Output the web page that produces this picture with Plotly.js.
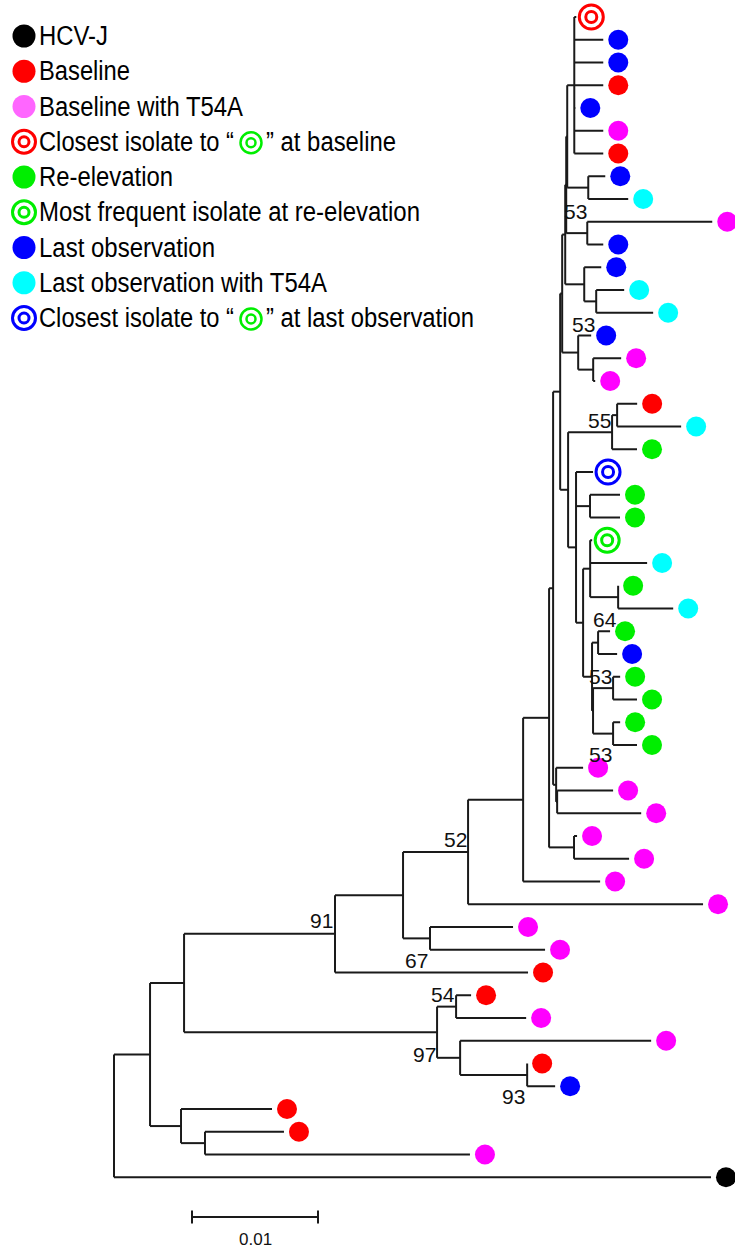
<!DOCTYPE html>
<html><head><meta charset="utf-8">
<script src="https://cdn.plot.ly/plotly-3.0.1.min.js"></script>
<style>html,body{margin:0;padding:0;background:#fff}#chart{width:735px;height:1249px}</style>
</head><body><div id="chart"></div>
<script>
// ---------------- DATA ----------------
const groupKeys  = ["ref","base","baseT","baseClose","reel","reelTop","last","lastT","lastClose"];
const groupNames = ["HCV-J","Baseline","Baseline with T54A",
  "Closest isolate to “◎” at baseline",
  "Re-elevation","Most frequent isolate at re-elevation","Last observation",
  "Last observation with T54A",
  "Closest isolate to “◎” at last observation"];

// tips, top to bottom
const tipGroup = ["baseClose","last","last","base","last","baseT","base","last","lastT","baseT",
  "last","last","lastT","lastT","last","baseT","baseT","base","lastT","reel",
  "lastClose","reel","reel","reelTop","lastT","reel","lastT","reel","last","reel",
  "reel","reel","reel","baseT","baseT","baseT","baseT","baseT","baseT","baseT",
  "baseT","baseT","base","base","baseT","baseT","base","last","base","base",
  "baseT","ref"];
const tipParent = ["P1","P1","P1","P1","P1","P1","P1","G89","G89","G1011",
  "G1011","G1214","G1314","G1314","G1517","G1617","G1617","n617","n617","n55",
  "n576","nX","nX","nY","nY","n618","n618","n64","n64","n613a",
  "n613a","n613b","n613b","nA","nB","nB","n574m","n574m","n523","n52",
  "n67","n67","n91","n54","n54","n460","n93","n93","n181","n205",
  "n205","root"];
const tipLength = [0.00016,0.0023,0.0023,0.0023,0.00008,0.0023,0.0023,0.00135,0.00317,0.00992,
  0.00127,0.00135,0.00222,0.00452,0.00103,0.00222,0.00016,0.00159,0.00508,0.00198,
  0.00135,0.00238,0.00238,0.00016,0.00452,0,0.00437,0.00095,0.00151,0.00056,
  0.0019,0.00056,0.0019,0.00214,0.00444,0.00667,0.00024,0.00437,0.00611,0.01865,
  0.00659,0.00913,0.01532,0.00119,0.00556,0.01516,0,0.00222,0.00722,0.00627,
  0.02103,0.04738];

// internal nodes
const nodeName   = ["root","n150","n184","n181","n205","n91","n97","n54","n460","n93",
  "n403","n67","n52","n523","n549","n574m","n553","nA","nB","n560",
  "n562","n568","n565","n566","n567","P1","G89","G1011","G1214","G1314",
  "G1517","G1617","n55","n617","n576","nX","n583","nY","n618","n592",
  "n64","n593","n613a","n613b"];
const nodeParent = [null,"root","n150","n150","n181","n184","n184","n97","n97","n460",
  "n91","n403","n403","n52","n523","n549","n549","n553","nA","n553",
  "n560","n560","n562","n565","n566","n567","n567","n566","n565","G1214",
  "n562","G1517","n568","n55","n568","n576","n576","n583","nY","n583",
  "n592","n592","n593","n593"];
const nodeLength = [0,0.00286,0.0027,0.00246,0.0019,0.01198,0.02008,0.00151,0.00183,0.00532,
  0.0054,0.00214,0.00516,0.00437,0.00206,0.00198,0.00032,0.00024,0.00008,0.00056,
  0.00016,0.00063,0.00024,0.00008,0.00008,0.00056,0.00167,0.00167,0.00151,0.00095,
  0.00127,0.00119,0.00349,0.0004,0.00063,0.00111,0.00056,0.00056,0.00222,0.00071,
  0.00048,0.00008,0.00159,0.00159];

// bootstrap values
const bootNode  = ["G1011","G1517","n55","n64","n613a","nA","n52","n91","n67","n54","n97","n93"];
const bootValue = [53,53,55,64,53,53,52,91,67,54,97,93];

const scaleLength = 0.01;
const scaleLabel = "0.01";

// ---------------- STYLE ----------------
const bootDx = [-12,5,-13,7,-13,44,-13,-14,-14,-13,-13,-14];
const bootDy = [-22,-28,-12,-23,-12,-30,-12,-13,22,-12,22,22];
// legend text pieces: [start x, width] in pixels (text split around the inline ◎)
const legendPartX = [[40],[40],[40],[40,267],[40],[40],[40],[40],[40,267]];
const legendPartW = [[69],[91],[204],[195,130],[134],[381],[176],[288],[195,208]];
const INLINE_RING_X = 251;
const groupColor = {ref:"#000000",base:"#ff0000",baseT:"#ff00ff",baseClose:"#ff0000",
  reel:"#00ee00",reelTop:"#00ee00",last:"#0000ff",lastT:"#00ffff",lastClose:"#0000ff"};
const legendColor = {ref:"#000000",base:"#ff0000",baseT:"#ff66ff",baseClose:"#ff0000",
  reel:"#00ee00",reelTop:"#00ee00",last:"#0000ff",lastT:"#00ffff",lastClose:"#0000ff"};
const ringGroups = ["baseClose","reelTop","lastClose"];
const PX = 12600;              // pixels per substitution unit
const ROOT_PX = 114, ROW0 = 17, ROW = 22.75, W = 735, H = 1249;
const MARKER_GAP = 15 / PX;
const LINE = "#1a1a1a", LW = 2;

// ---------------- BUILD TREE ----------------
const parentOf = {}, lenOf = {}, children = {};
tipGroup.forEach((g,i)=>{ const id="t"+i; parentOf[id]=tipParent[i]; lenOf[id]=tipLength[i]; });
nodeName.forEach((n,i)=>{ parentOf[n]=nodeParent[i]; lenOf[n]=nodeLength[i]; children[n]=[]; });
Object.keys(parentOf).forEach(id=>{ const p=parentOf[id]; if(p) children[p].push(id); });
const distMemo={};
function dist(id){ if(id in distMemo) return distMemo[id]; const p=parentOf[id];
  const d = p ? dist(p)+lenOf[id] : 0; distMemo[id]=d; return d; }
const yMemo={};
function yOf(id){ if(id in yMemo) return yMemo[id];
  let y; if(!(id in children)) y=+id.slice(1);
  else { const ys=children[id].map(yOf); y=(Math.min(...ys)+Math.max(...ys))/2; }
  yMemo[id]=y; return y; }

const lx=[], ly=[];
Object.keys(parentOf).forEach(id=>{
  const p=parentOf[id]; if(!p) return;
  lx.push(dist(p),dist(id),null); ly.push(yOf(id),yOf(id),null);
});
nodeName.forEach(n=>{
  const ys=children[n].map(yOf);
  lx.push(dist(n),dist(n),null); ly.push(Math.min(...ys),Math.max(...ys),null);
});

const traces=[{type:"scatter",mode:"lines",x:lx,y:ly,line:{color:LINE,width:LW},hoverinfo:"skip"}];

function ringPair(xs,ys,color,outer,inner,w,extra){
  return [
    Object.assign({type:"scatter",mode:"markers",x:xs,y:ys,hoverinfo:"skip",
      marker:{symbol:"circle-open",size:outer,color:color,line:{width:w}}},extra),
    Object.assign({type:"scatter",mode:"markers",x:xs,y:ys,hoverinfo:"skip",
      marker:{symbol:"circle-open",size:inner,color:color,line:{width:w}}},extra)
  ];
}

groupKeys.forEach(g=>{
  const xs=[], ys=[];
  tipGroup.forEach((tg,i)=>{ if(tg===g){ xs.push(dist("t"+i)+MARKER_GAP); ys.push(i); } });
  if(!xs.length) return;
  if(ringGroups.includes(g)) traces.push(...ringPair(xs,ys,groupColor[g],24,11,3,{}));
  else traces.push({type:"scatter",mode:"markers",x:xs,y:ys,hoverinfo:"skip",
      marker:{symbol:"circle",size:20,color:groupColor[g],line:{width:0}}});
});

// legend (pixel space axes)
const LEG_X=24, LEG_Y0=36, LEG_DY=35.25;
const annotations=[];
const legendWidths=[];
const P2={xaxis:"x2",yaxis:"y2"};
groupKeys.forEach((g,k)=>{
  const y=LEG_Y0+k*LEG_DY;
  if(ringGroups.includes(g)) traces.push(...ringPair([LEG_X],[y],legendColor[g],23,10,3,P2));
  else traces.push(Object.assign({type:"scatter",mode:"markers",x:[LEG_X],y:[y],hoverinfo:"skip",
      marker:{symbol:"circle",size:23,color:legendColor[g],line:{width:0}}},P2));
  const parts=groupNames[k].split("◎");
  if(parts.length>1) traces.push(...ringPair([INLINE_RING_X],[y+1],legendColor.reelTop,21,9,2.5,P2));
  parts.forEach((p,j)=>{
    annotations.push({xref:"x2",yref:"y2",x:legendPartX[k][j]-3,y:y,text:p,showarrow:false,
      xanchor:"left",yanchor:"middle",align:"left",
      font:{family:"Liberation Sans, Arial, sans-serif",size:27,color:"#000"}});
    legendWidths.push(legendPartW[k][j]);
  });
});
const nLegendAnn = annotations.length;

bootNode.forEach((n,i)=>{
  annotations.push({xref:"x",yref:"y",x:dist(n),y:yOf(n),text:String(bootValue[i]),showarrow:false,
    xanchor:"center",yanchor:"middle",xshift:bootDx[i],yshift:-bootDy[i],
    font:{family:"Liberation Sans, Arial, sans-serif",size:21,color:"#111"}});
});

// scale bar
const SB_X = (192-ROOT_PX)/PX, SB_Y=1217;
const shapes=[
  {type:"line",xref:"x",yref:"y2",x0:SB_X,x1:SB_X+scaleLength,y0:SB_Y,y1:SB_Y,line:{color:LINE,width:LW}},
  {type:"line",xref:"x",yref:"y2",x0:SB_X,x1:SB_X,y0:SB_Y-6.5,y1:SB_Y+6.5,line:{color:LINE,width:LW}},
  {type:"line",xref:"x",yref:"y2",x0:SB_X+scaleLength,x1:SB_X+scaleLength,y0:SB_Y-6.5,y1:SB_Y+6.5,line:{color:LINE,width:LW}}
];
annotations.push({xref:"x",yref:"y2",x:SB_X+scaleLength/2,y:1239,text:scaleLabel,showarrow:false,
  xanchor:"center",yanchor:"middle",font:{family:"Liberation Sans, Arial, sans-serif",size:17,color:"#111"}});

const layout={
  width:W,height:H,margin:{l:0,r:0,t:0,b:0},paper_bgcolor:"#fff",plot_bgcolor:"#fff",
  showlegend:false,
  xaxis:{range:[-ROOT_PX/PX,(W-ROOT_PX)/PX],visible:false,fixedrange:true},
  yaxis:{range:[(H-ROW0)/ROW,-ROW0/ROW],visible:false,fixedrange:true},
  xaxis2:{overlaying:"x",range:[0,W],visible:false,fixedrange:true},
  yaxis2:{overlaying:"y",range:[H,0],visible:false,fixedrange:true},
  annotations:annotations,shapes:shapes
};
Plotly.newPlot("chart",traces,layout,{displayModeBar:false,staticPlot:true}).then(gd=>{
  // condense legend text to the reference's narrow face
  gd.querySelectorAll(".infolayer g.annotation").forEach(a=>{
    const idx=+a.getAttribute("data-index");
    if(idx<nLegendAnn){
      const t=a.querySelector("text.annotation-text");
      if(t){ t.setAttribute("textLength",legendWidths[idx]); t.setAttribute("lengthAdjust","spacingAndGlyphs"); }
    }
  });
});
</script></body></html>
